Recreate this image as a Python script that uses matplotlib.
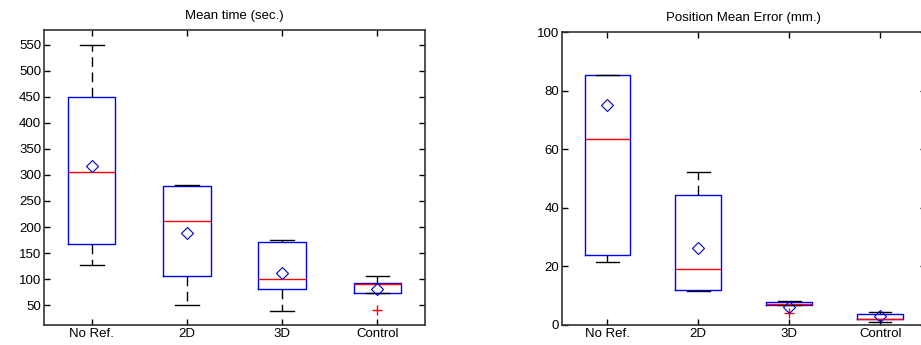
import matplotlib
matplotlib.use("Agg")
import matplotlib.pyplot as plt

plt.rcParams['font.family'] = ['Liberation Sans', 'DejaVu Sans']

categories = ["No Ref.", "2D", "3D", "Control"]

# Mean time (sec.)
time_whislo = [128, 50, 39, 74]
time_q1 = [168, 106, 82, 74]
time_med = [305, 212, 101, 90]
time_q3 = [450, 279, 171, 92]
time_whishi = [550, 281, 176, 106]
time_mean = [318, 189, 111, 82]
time_fliers = [[], [], [], [41]]

# Position mean error (mm.)
err_whislo = [21.5, 11.5, 6.7, 1.0]
err_q1 = [23.8, 11.9, 6.7, 2.0]
err_med = [63.4, 19.1, 7.0, 2.2]
err_q3 = [85.3, 44.4, 7.8, 3.6]
err_whishi = [85.3, 52.4, 8.1, 4.4]
err_mean = [75.1, 26.2, 6.0, 3.0]
err_fliers = [[], [], [4.0], []]


def make_stats(lo, q1, med, q3, hi, mean, fl):
    return [dict(label=c, whislo=a, q1=b, med=m, q3=d, whishi=e, mean=mn, fliers=f)
            for c, a, b, m, d, e, mn, f in zip(categories, lo, q1, med, q3, hi, mean, fl)]


fig = plt.figure(figsize=(9.21, 3.45), dpi=100)
ax1 = fig.add_axes([0.0478, 0.058, 0.4137, 0.855])
ax2 = fig.add_axes([0.610, 0.058, 0.395, 0.849])

props = dict(
    widths=0.5,
    showmeans=True,
    boxprops=dict(color='#0000ff', linewidth=1.0),
    medianprops=dict(color='#ff0000', linewidth=1.0),
    whiskerprops=dict(color='black', linewidth=1.0, linestyle=(0, (7, 4))),
    capprops=dict(color='black', linewidth=1.0),
    capwidths=0.25,
    meanprops=dict(marker='D', markerfacecolor='none', markeredgecolor='#0000cc',
                   markersize=6, markeredgewidth=0.8),
    flierprops=dict(marker='+', markeredgecolor='#ff0000', markersize=7, markeredgewidth=1.0),
)

ax1.bxp(make_stats(time_whislo, time_q1, time_med, time_q3, time_whishi, time_mean, time_fliers), **props)
ax2.bxp(make_stats(err_whislo, err_q1, err_med, err_q3, err_whishi, err_mean, err_fliers), **props)

ax1.set_ylim(12, 578)
ax1.set_yticks(range(50, 551, 50))
ax2.set_ylim(0, 100)
ax2.set_yticks(range(0, 101, 20))

for ax, title in [(ax1, "Mean time (sec.)"), (ax2, "Position Mean Error (mm.)")]:
    ax.set_xlim(0.5, 4.5)
    ax.set_xticks([1, 2, 3, 4])
    ax.set_xticklabels(categories)
    ax.set_title(title, fontsize=9.5, pad=8)
    ax.tick_params(direction='in', top=True, right=True, length=4, width=1,
                   labelsize=9.5, pad=2)
    for s in ax.spines.values():
        s.set_linewidth(1.2)
        s.set_color('#333333')

fig.savefig("out.png", dpi=100)
